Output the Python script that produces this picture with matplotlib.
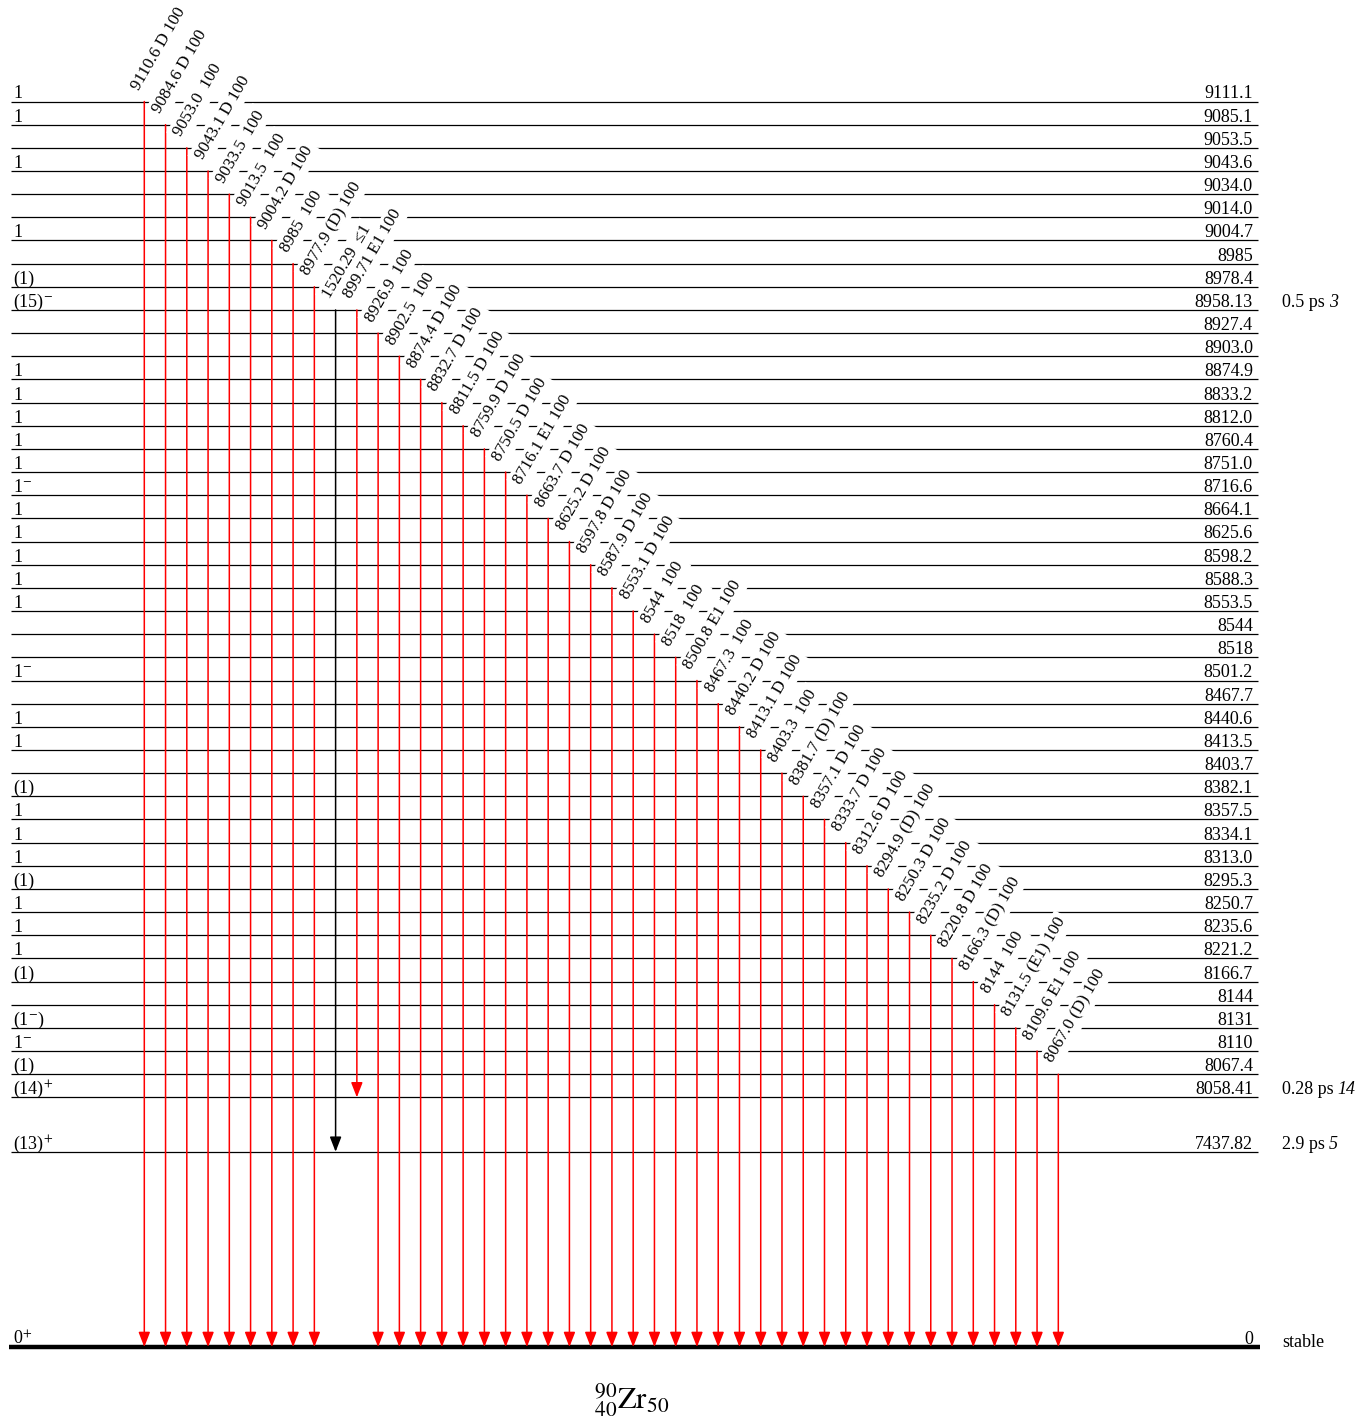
import matplotlib
matplotlib.use('Agg')
import matplotlib.pyplot as plt

plt.rcParams['font.family'] = ['Liberation Serif', 'DejaVu Serif']
plt.rcParams['mathtext.fontset'] = 'stix'

# levels, top to bottom (last one is the ground state)
level_energy = ['9111.1', '9085.1', '9053.5', '9043.6', '9034.0', '9014.0', '9004.7', '8985',
                '8978.4', '8958.13', '8927.4', '8903.0', '8874.9', '8833.2', '8812.0', '8760.4',
                '8751.0', '8716.6', '8664.1', '8625.6', '8598.2', '8588.3', '8553.5', '8544',
                '8518', '8501.2', '8467.7', '8440.6', '8413.5', '8403.7', '8382.1', '8357.5',
                '8334.1', '8313.0', '8295.3', '8250.7', '8235.6', '8221.2', '8166.7', '8144',
                '8131', '8110', '8067.4', '8058.41', '7437.82', '0']
level_spin = ['1', '1', '', '1', '', '', '1', '',
              '(1)', '(15)$^{-}$', '', '', '1', '1', '1', '1',
              '1', '1$^{-}$', '1', '1', '1', '1', '1', '',
              '', '1$^{-}$', '', '1', '1', '', '(1)', '1',
              '1', '1', '(1)', '1', '1', '1', '(1)', '',
              '(1$^{-}$)', '1$^{-}$', '(1)', '(14)$^{+}$', '(13)$^{+}$', '0$^{+}$']
halflife_level = [9, 43, 44, 45]
halflife_value = ['0.5 ps', '0.28 ps', '2.9 ps', 'stable']
halflife_unc = ['3', '14', '5', '']

# gamma transitions, left to right
gamma_from = [0, 1, 2, 3, 4, 5, 6, 7, 8, 9, 9, 10, 11, 12, 13, 14, 15, 16, 17, 18, 19, 20,
              21, 22, 23, 24, 25, 26, 27, 28, 29, 30, 31, 32, 33, 34, 35, 36, 37, 38, 39, 40, 41, 42]
gamma_to = [45] * 9 + [44, 43] + [45] * 33
gamma_energy = ['9110.6', '9084.6', '9053.0', '9043.1', '9033.5', '9013.5', '9004.2', '8985',
                '8977.9', '1520.29', '899.71', '8926.9', '8902.5', '8874.4', '8832.7', '8811.5',
                '8759.9', '8750.5', '8716.1', '8663.7', '8625.2', '8597.8', '8587.9', '8553.1',
                '8544', '8518', '8500.8', '8467.3', '8440.2', '8413.1', '8403.3', '8381.7',
                '8357.1', '8333.7', '8312.6', '8294.9', '8250.3', '8235.2', '8220.8', '8166.3',
                '8144', '8131.5', '8109.6', '8067.0']
gamma_mult = ['D', 'D', '', 'D', '', '', 'D', '', '(D)', '', 'E1', '', '', 'D', 'D', 'D',
              'D', 'D', 'E1', 'D', 'D', 'D', 'D', 'D', '', '', 'E1', '', 'D', 'D', '', '(D)',
              'D', 'D', 'D', '(D)', 'D', 'D', 'D', '(D)', '', '(E1)', 'E1', '(D)']
gamma_int = ['100'] * 9 + ['≤1'] + ['100'] * 34

# layout: levels on evenly spaced slots, extra gaps for the two lowest ones
level_y = list(range(44)) + [45.35, 53.78]
PX, PY = 21.256, 23.16  # pixels per unit in x and y

fig = plt.figure(figsize=(13.62, 14.19), dpi=100)
ax = fig.add_axes([0, 0, 1, 1])
ax.set_xlim(-144.3 / PX, (1362 - 144.3) / PX)
ax.set_ylim((1419 - 101.5) / PY, -101.5 / PY)
ax.axis('off')

x_left = (11 - 144.3) / PX
x_right = (1258 - 144.3) / PX
x_elab = (1253 - 144.3) / PX
x_hl = (1282 - 144.3) / PX

# level lines and labels
for i, y in enumerate(level_y):
    ground = i == len(level_y) - 1
    ax.hlines(y, x_left - (0.1 if ground else 0), x_right + (0.1 if ground else 0),
              color='black', lw=3.2 if ground else 0.9, zorder=1)
    ax.annotate(level_spin[i], (x_left, y), xytext=(1.5, 2.2), textcoords='offset points',
                ha='left', va='baseline', fontsize=13)
    ax.annotate(level_energy[i], (x_elab, y), xytext=(0, 2.2), textcoords='offset points',
                ha='right', va='baseline', fontsize=13)

# half-lives, uncertainty in italics
for i, v, u in zip(halflife_level, halflife_value, halflife_unc):
    t = ax.annotate(v, (x_hl, level_y[i]), xytext=(0, 2.2 if i != 45 else 0),
                    textcoords='offset points', ha='left', va='baseline', fontsize=13)
    if u:
        ax.annotate(u, xy=(1, 0), xycoords=t, xytext=(3, 0), textcoords='offset points',
                    ha='left', va='bottom', fontsize=13, style='italic')

# gamma arrows
for k in range(len(gamma_energy)):
    y0 = level_y[gamma_from[k]]
    y1 = level_y[gamma_to[k]]
    c = 'black' if gamma_int[k] == '≤1' else '#ff0000'
    ax.annotate('', xy=(k, y1), xytext=(k, y0),
                arrowprops=dict(arrowstyle='-|>,head_length=0.9,head_width=0.35', color=c,
                                lw=1.1, shrinkA=0, shrinkB=0, mutation_scale=10), zorder=2)
    label = gamma_energy[k] + ' ' + gamma_mult[k] + ' ' + gamma_int[k]
    ax.annotate(label, (k, y0), xytext=(-4.0, 7.6), textcoords='offset points',
                rotation=60, rotation_mode='anchor', ha='left', va='baseline', fontsize=12.3,
                bbox=dict(boxstyle='square,pad=0.2', fc='white', ec='none'), zorder=4)

ax.text((632 - 144.3) / PX, (1400 - 101.5) / PY, r'${}^{90}_{40}\mathrm{Zr}_{50}$',
        fontsize=22, ha='center', va='center')

fig.savefig('out.png', dpi=100)
